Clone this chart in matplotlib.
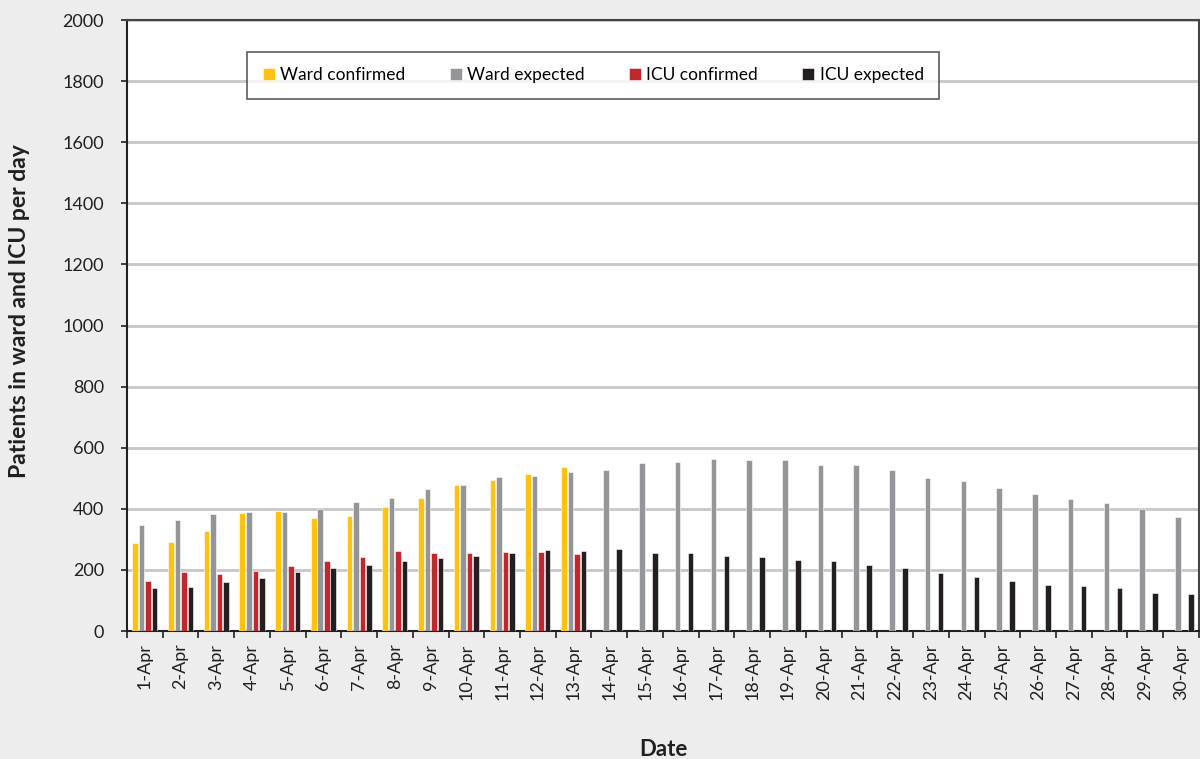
import numpy as np
import matplotlib
matplotlib.use("Agg")
import matplotlib.pyplot as plt

plt.rcParams['font.family'] = ['Lato', 'DejaVu Sans']

# Datos
dias = [f"{d}-Apr" for d in range(1, 31)]
ward_confirmed = [287, 293, 329, 387, 394, 370, 377, 406, 435, 479, 495, 513, 537]
ward_expected = [348, 363, 384, 388, 391, 399, 424, 437, 466, 479, 503, 508, 519,
                 526, 549, 554, 563, 561, 559, 543, 543, 526, 501, 491, 467, 448,
                 432, 418, 399, 373]
icu_confirmed = [165, 192, 188, 197, 214, 230, 243, 261, 257, 254, 259, 260, 252]
icu_expected = [142, 143, 159, 172, 192, 205, 217, 228, 238, 247, 257, 266, 261,
                267, 255, 257, 244, 242, 233, 228, 215, 207, 191, 177, 163, 152,
                147, 140, 125, 120]

AMARILLO = "#FFC20E"
GRIS = "#939598"
ROJO = "#C1272D"
NEGRO = "#231F20"


def graficar():
    fig = plt.figure(figsize=(12, 7.59), dpi=100, facecolor="#ededed")
    ax = fig.add_axes([0.1058, 0.1686, 0.8933, 0.805])
    ax.set_facecolor("white")

    x = np.arange(len(dias))
    ancho = 0.155
    paso = 0.182
    series = [
        (ward_confirmed, AMARILLO, "Ward confirmed"),
        (ward_expected, GRIS, "Ward expected"),
        (icu_confirmed, ROJO, "ICU confirmed"),
        (icu_expected, NEGRO, "ICU expected"),
    ]
    for i, (valores, color, etiqueta) in enumerate(series):
        pos = x[:len(valores)] + (i - 1.5) * paso
        ax.bar(pos, valores, width=ancho, color=color, label=etiqueta,
               edgecolor="white", linewidth=0.4, zorder=3)

    ax.set_xlim(-0.5, len(dias) - 0.5)
    ax.set_ylim(0, 2000)
    ax.set_yticks(np.arange(0, 2001, 200))
    ax.yaxis.grid(True, color="#c8c8c8", linewidth=2, zorder=0)

    ax.set_xticks(x)
    ax.set_xticklabels(dias, rotation=90, fontsize=13, color="#231f20")
    ax.tick_params(axis="x", which="major", length=0, pad=9)
    ax.set_xticks(np.arange(-0.5, len(dias), 1), minor=True)
    ax.tick_params(axis="x", which="minor", length=5, width=1.2, color="#231f20")
    ax.tick_params(axis="y", length=4.5, width=1.2, labelsize=13,
                   colors="#231f20", pad=12)

    for lado in ["left", "bottom"]:
        ax.spines[lado].set_color("#231f20")
        ax.spines[lado].set_linewidth(1.5)
    for lado in ["top", "right"]:
        ax.spines[lado].set_color("#444444")
        ax.spines[lado].set_linewidth(1.5)

    ax.set_ylabel("Patients in ward and ICU per day", fontsize=16.5,
                  fontweight="bold", color="#231f20")
    ax.yaxis.set_label_coords(-0.0905, 0.524)
    ax.set_xlabel("Date", fontsize=16, fontweight="bold", color="#231f20",
                  labelpad=28)

    leg = ax.legend(ncol=4, loc="upper left", bbox_to_anchor=(0.112, 0.948),
                    borderaxespad=0, fontsize=12.5, frameon=True, fancybox=False,
                    edgecolor="#333333", handlelength=0.7, handleheight=0.7,
                    handletextpad=0.3, columnspacing=2.55, borderpad=0.9)
    leg.get_frame().set_linewidth(1.2)

    fig.savefig("out.png", dpi=100, facecolor=fig.get_facecolor())


if __name__ == "__main__":
    graficar()
